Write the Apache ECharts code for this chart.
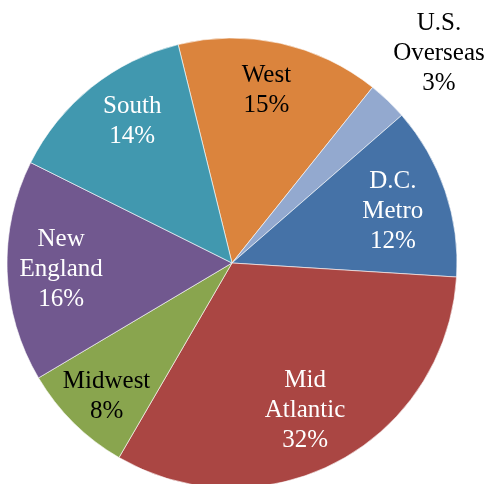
<!DOCTYPE html>
<html>
<head>
<meta charset="utf-8">
<script src="https://cdn.jsdelivr.net/npm/echarts@6/dist/echarts.min.js"></script>
<style>
  html, body { margin: 0; padding: 0; background: #fff; }
  #chart { width: 489px; height: 484px; }
</style>
</head>
<body>
<div id="chart"></div>
<script>
// slices, clockwise starting from West
var regions = ['West', 'U.S.\nOverseas', 'D.C.\nMetro', 'Mid\nAtlantic', 'Midwest', 'New\nEngland', 'South'];
var shares = [14.6, 2.86, 12.4, 32.4, 8.1, 15.9, 13.8];
var colors = ['#DB843D', '#93A9CF', '#4572A7', '#AA4643', '#89A54E', '#71588F', '#4198AF'];
var textColors = ['#000', '#000', '#fff', '#fff', '#000', '#fff', '#fff'];
// small label nudges (px) to follow the original placement
var labelNudge = [[-3, -3], [0, 6], [-4, 4], [-9, -6], [-3, 10], [3, 0], [9, -6]];

var center = [232, 263];
var R = 225;
var start = 103.85;

function pieData(showFn, fill) {
  return regions.map(function (name, i) {
    return {
      name: name,
      value: shares[i],
      itemStyle: { color: fill ? colors[i] : 'rgba(0,0,0,0)' },
      label: { show: showFn(i), color: textColors[i] }
    };
  });
}

var labelStyle = {
  position: 'inside',
  fontFamily: 'Liberation Serif',
  fontSize: 25,
  lineHeight: 30,
  formatter: function (p) {
    return p.name + '\n' + Math.round(p.percent) + '%';
  }
};

function nudge(params) {
  var n = labelNudge[params.dataIndex];
  return { dx: n[0], dy: n[1] };
}

var chart = echarts.init(document.getElementById('chart'));
chart.setOption({
  animation: false,
  series: [
    {
      // the pie itself
      type: 'pie',
      center: center,
      radius: [0, R],
      startAngle: start,
      clockwise: true,
      silent: true,
      label: { show: false },
      labelLine: { show: false },
      itemStyle: { borderColor: '#fff', borderWidth: 0.6 },
      data: pieData(function () { return false; }, true)
    },
    {
      // transparent ring used to place the inside labels
      type: 'pie',
      center: center,
      radius: [R * 0.52, R],
      startAngle: start,
      clockwise: true,
      silent: true,
      avoidLabelOverlap: false,
      label: labelStyle,
      labelLine: { show: false },
      labelLayout: nudge,
      data: pieData(function (i) { return i !== 1; }, false)
    },
    {
      // outer ring for the small U.S. Overseas label
      type: 'pie',
      center: center,
      radius: [R * 1.2, R * 1.43],
      startAngle: start,
      clockwise: true,
      silent: true,
      avoidLabelOverlap: false,
      label: labelStyle,
      labelLine: { show: false },
      labelLayout: nudge,
      data: pieData(function (i) { return i === 1; }, false)
    }
  ]
});
</script>
</body>
</html>
